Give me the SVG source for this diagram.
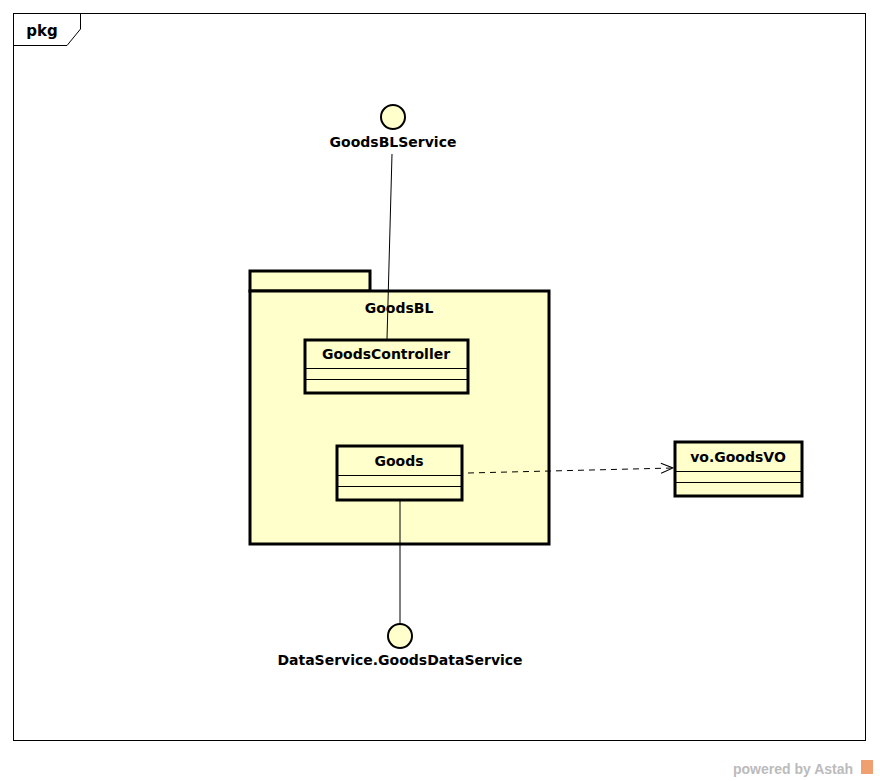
<svg xmlns="http://www.w3.org/2000/svg" width="880" height="781" viewBox="0 0 880 781">
<style>
.lbl{font-family:"DejaVu Sans","Liberation Sans",sans-serif;font-weight:bold;font-size:14px;fill:#000;text-anchor:middle}
.box{fill:#ffffcc;stroke:#000;stroke-width:3}
.thin{stroke:#000;stroke-width:1;fill:none}
</style>
<defs>
<marker id="open" markerWidth="14" markerHeight="12" refX="13" refY="6" orient="auto" markerUnits="userSpaceOnUse">
<path d="M1,1 L13,6 L1,11" fill="none" stroke="#000" stroke-width="1"/>
</marker>
</defs>
<rect width="880" height="781" fill="#fff"/>
<g id="frame">
<rect x="13.5" y="13.5" width="852" height="727" fill="none" stroke="#000" stroke-width="1"/>
<path d="M13.5,45.5 L67,45.5 L80.5,29 L80.5,13.5" fill="none" stroke="#000" stroke-width="1"/>
<text x="42" y="36" class="lbl" style="font-size:15px">pkg</text>
</g>
<g id="GoodsBL">
<rect x="250" y="271" width="120" height="20" class="box"/>
<rect x="250" y="291" width="299" height="253" class="box"/>
<text x="399" y="313" class="lbl">GoodsBL</text>
</g>
<g id="connectors">
<line x1="392" y1="154" x2="387" y2="339" class="thin"/>
<line x1="400" y1="500" x2="400" y2="624" class="thin"/>
<line x1="468" y1="473" x2="673" y2="468" class="thin" stroke-dasharray="6,5" marker-end="url(#open)"/>
</g>
<g id="GoodsController">
<rect x="305" y="340" width="163" height="53" class="box"/>
<line x1="305" y1="368.5" x2="468" y2="368.5" class="thin"/>
<line x1="305" y1="379.5" x2="468" y2="379.5" class="thin"/>
<text x="386" y="359" class="lbl">GoodsController</text>
</g>
<g id="Goods">
<rect x="337" y="446" width="125" height="54" class="box"/>
<line x1="337" y1="475.5" x2="462" y2="475.5" class="thin"/>
<line x1="337" y1="486.5" x2="462" y2="486.5" class="thin"/>
<text x="399" y="466" class="lbl">Goods</text>
</g>
<g id="GoodsVO">
<rect x="675" y="442" width="127" height="54" class="box"/>
<line x1="675" y1="471.5" x2="802" y2="471.5" class="thin"/>
<line x1="675" y1="482.5" x2="802" y2="482.5" class="thin"/>
<text x="738" y="462" class="lbl">vo.GoodsVO</text>
</g>
<g id="GoodsBLService">
<circle cx="393" cy="117" r="12" fill="#ffffcc" stroke="#000" stroke-width="2"/>
<text x="393" y="147" class="lbl">GoodsBLService</text>
</g>
<g id="GoodsDataService">
<circle cx="400" cy="636" r="12" fill="#ffffcc" stroke="#000" stroke-width="2"/>
<text x="400" y="665" class="lbl">DataService.GoodsDataService</text>
</g>
<g id="watermark">
<text x="733" y="774" style="font-family:'Liberation Sans',Arial,sans-serif;font-weight:bold;font-size:14px;fill:#bbb">powered by Astah</text>
<rect x="861" y="760" width="12" height="14" fill="#f0a070"/>
</g>
</svg>
